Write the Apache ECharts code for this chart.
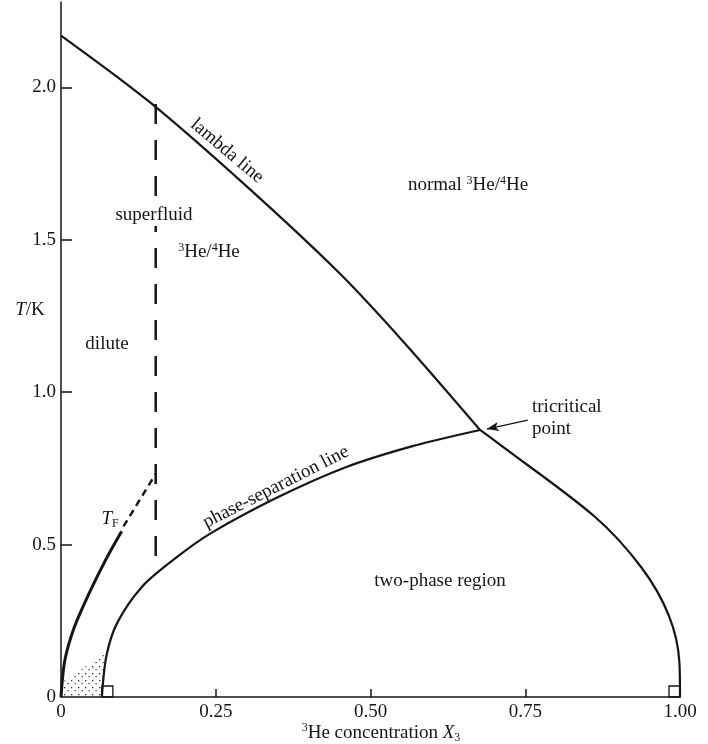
<!DOCTYPE html>
<html>
<head>
<meta charset="utf-8">
<title>Phase diagram of liquid 3He/4He mixtures</title>
<script src="https://cdn.jsdelivr.net/npm/echarts@6/dist/echarts.min.js"></script>
<style>
  html, body { margin: 0; padding: 0; background: #ffffff; }
  #chart { width: 708px; height: 744px; }
</style>
</head>
<body>
<div id="chart"></div>
<script>
// Lambda line: superfluid transition temperature T (K) vs 3He concentration X3
const lambdaX = [0, 0.1425, 0.300, 0.450, 0.552, 0.677];
const lambdaT = [2.17, 1.953, 1.675, 1.390, 1.168, 0.876];

// 3He-rich (concentrated) branch of the coexistence curve, tricritical point down to X3 = 1
const concX = [0.677, 0.707, 0.862, 0.938, 0.982, 0.999, 1.0];
const concT = [0.876, 0.831, 0.592, 0.424, 0.267, 0.115, 0];

// dilute branch: phase-separation line from X3 = 0.066 at T = 0 up to the tricritical point
const sepX = [0.066, 0.0735, 0.091, 0.131, 0.186, 0.241, 0.350, 0.459, 0.568, 0.677];
const sepT = [0, 0.136, 0.244, 0.362, 0.457, 0.536, 0.655, 0.753, 0.823, 0.876];

// Fermi temperature of the dilute 3He: solid part, then dashed continuation
const fermiX = [0, 0.006, 0.021, 0.044, 0.073, 0.098];
const fermiT = [0, 0.118, 0.226, 0.334, 0.453, 0.544];
const fermiDashX = [0.101, 0.153];
const fermiDashT = [0.560, 0.732];

// vertical dashed boundary at X3 = 0.153
const edgeX = [0.153, 0.153];
const edgeT = [1.945, 0.41];

// stippled low-temperature corner between the Fermi curve and the separation line
const stippleX = [0, 0.003, 0.075, 0.0735, 0.068, 0.066];
const stippleT = [0, 0.05, 0.148, 0.136, 0.05, 0];

// axis ticks and labels
const xTicks = [0, 0.25, 0.5, 0.75, 1.0];
const yTicks = [0, 0.5, 1.0, 1.5, 2.0];

const zip = (xs, ys) => xs.map((x, i) => [x, ys[i]]);

const INK = '#151515';
const FONT = 'Liberation Serif';

// dotted fill used for the stippled corner
const dots = document.createElement('canvas');
dots.width = 7; dots.height = 7;
(function () {
  const c = dots.getContext('2d');
  c.fillStyle = '#2a2a2a';
  c.fillRect(1, 1, 1.3, 1.3);
  c.fillRect(4.5, 4, 1.2, 1.2);
})();

const sup = { fontSize: 12, fontFamily: FONT, fill: INK, verticalAlign: 'top', lineHeight: 20 };
const sub = { fontSize: 12, fontFamily: FONT, fill: INK, verticalAlign: 'bottom', lineHeight: 22 };
const ital = { fontSize: 19, fontFamily: FONT, fontStyle: 'italic', fill: INK, lineHeight: 20 };

function textEl(text, x, y, opts) {
  opts = opts || {};
  return {
    type: 'text', x: x, y: y, rotation: opts.rotation || 0, z: opts.z || 50,
    style: {
      text: text, fontFamily: FONT, fontSize: opts.fontSize || 19, fill: INK,
      align: opts.align || 'center', verticalAlign: 'middle', lineHeight: 20,
      backgroundColor: opts.bg, padding: opts.bg ? [1, 3] : 0,
      rich: { s: sup, b: sub, i: ital }
    }
  };
}

const lineSeries = (name, data, width, type, smooth) => ({
  name: name, type: 'line', data: data, showSymbol: false, symbol: 'none',
  smooth: smooth, clip: false, silent: true, animation: false,
  lineStyle: { color: INK, width: width, type: type || 'solid', cap: 'butt' }
});

const option = {
  backgroundColor: '#ffffff',
  animation: false,
  grid: { left: 61, right: 28, top: 2, bottom: 47 },
  xAxis: {
    type: 'value', min: 0, max: 1.0,
    axisLine: { show: true, onZero: false, lineStyle: { color: INK, width: 1.5 } },
    axisTick: { show: true, inside: true, length: 8, lineStyle: { color: INK, width: 1.5 },
      customValues: xTicks.filter(v => v > 0 && v < 1) },
    axisLabel: { customValues: xTicks, margin: 6, color: INK, fontFamily: FONT, fontSize: 19,
      formatter: v => (v === 0 ? '0' : v.toFixed(2)) },
    splitLine: { show: false }
  },
  yAxis: {
    type: 'value', min: 0, max: 2.28,
    axisLine: { show: true, onZero: false, lineStyle: { color: INK, width: 1.5 } },
    axisTick: { show: true, inside: true, length: 11, lineStyle: { color: INK, width: 1.5 },
      customValues: yTicks.filter(v => v > 0) },
    axisLabel: { customValues: yTicks, margin: 5, color: INK, fontFamily: FONT, fontSize: 19,
      formatter: v => (v === 0 ? '0' : v.toFixed(1)) },
    splitLine: { show: false }
  },
  series: [
    {
      name: 'stipple', type: 'custom', silent: true, animation: false, z: 1,
      data: [0],
      renderItem: function (params, api) {
        const pts = zip(stippleX, stippleT).map(p => api.coord(p));
        return { type: 'polygon', shape: { points: pts },
          style: { fill: { image: dots, repeat: 'repeat' }, stroke: null } };
      }
    },
    Object.assign(lineSeries('lambda line', zip(lambdaX, lambdaT), 2.2, 'solid', 0.3), {
      markLine: {
        silent: true, animation: false, symbol: ['none', 'arrow'], symbolSize: [7, 12],
        label: { show: false },
        lineStyle: { color: INK, width: 1.3, type: 'solid' },
        data: [[{ coord: [0.754, 0.908] }, { coord: [0.688, 0.879] }]]
      }
    }),
    lineSeries('concentrated branch', zip(concX, concT), 2.2, 'solid', 0.3),
    lineSeries('phase-separation line', zip(sepX, sepT), 2.2, 'solid', 0.3),
    lineSeries('Fermi temperature', zip(fermiX, fermiT), 3, 'solid', 0.3),
    lineSeries('Fermi temperature (extrapolated)', zip(fermiDashX, fermiDashT), 2.5, [7, 5], false),
    lineSeries('X3 = 0.153', zip(edgeX, edgeT), 2.5, [20, 16], false),
    {
      name: 'vertical tangent marks', type: 'custom', silent: true, animation: false, z: 3,
      data: [[sepX[0], sepT[0]], [concX[concX.length - 1], concT[concT.length - 1]]],
      renderItem: function (params, api) {
        const p = api.coord([api.value(0), api.value(1)]);
        const s = 11;
        const left = params.dataIndex === 0 ? p[0] : p[0] - s;
        return { type: 'rect', shape: { x: left, y: p[1] - s, width: s, height: s },
          style: { fill: 'none', stroke: INK, lineWidth: 1.3 } };
      }
    }
  ],
  graphic: [
    textEl('lambda line', 227, 151, { rotation: -0.70 }),
    textEl('superfluid', 154, 215, { bg: '#ffffff', z: 100 }),
    textEl('{s|3}He/{s|4}He', 209, 252),
    textEl('dilute', 107, 344),
    textEl('{i|T}/K', 30, 310),
    textEl('normal {s|3}He/{s|4}He', 468, 185),
    textEl('tricritical', 532, 407, { align: 'left' }),
    textEl('point', 532, 429, { align: 'left' }),
    textEl('phase-separation line', 276, 487, { rotation: 0.47 }),
    textEl('two-phase region', 440, 581),
    textEl('{i|T}{b|F}', 110, 519),
    textEl('{s|3}He concentration {i|X}{b|3}', 381, 733)
  ]
};

const chart = echarts.init(document.getElementById('chart'), null, { renderer: 'canvas' });
chart.setOption(option);
</script>
</body>
</html>
